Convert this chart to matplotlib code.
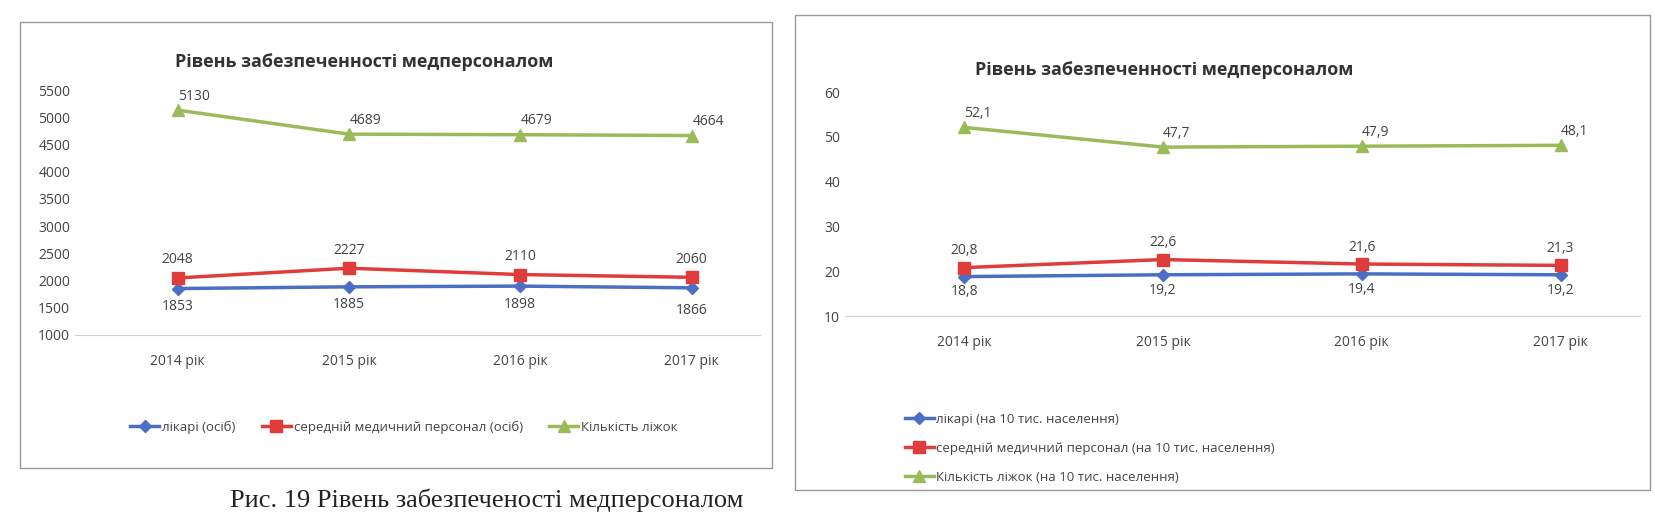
import matplotlib
matplotlib.use("Agg")
import matplotlib.pyplot as plt
from matplotlib.patches import Rectangle

years = ["2014 рік", "2015 рік", "2016 рік", "2017 рік"]
doctors = [1853, 1885, 1898, 1866]
nurses = [2048, 2227, 2110, 2060]
beds = [5130, 4689, 4679, 4664]
doctors10 = [18.8, 19.2, 19.4, 19.2]
nurses10 = [20.8, 22.6, 21.6, 21.3]
beds10 = [52.1, 47.7, 47.9, 48.1]
title = "Рівень забезпеченності медперсоналом"
leg1 = ["лікарі (осіб)", "середній медичний персонал (осіб)", "Кількість ліжок"]
leg2 = ["лікарі (на 10 тис. населення)", "середній медичний персонал (на 10 тис. населення)",
        "Кількість ліжок (на 10 тис. населення)"]
caption = "Рис. 19 Рівень забезпеченості медперсоналом"

plt.rcParams['font.family'] = ['Open Sans', 'DejaVu Sans']
W, H = 1655, 520
fig = plt.figure(figsize=(W/100, H/100), dpi=100)
fig.patch.set_facecolor('white')
BLUE, RED, GREEN = '#4a6fc4', '#e03c3c', '#9bbb59'
TXT = '#444444'

def box(x0, y0, x1, y1):
    fig.patches.append(Rectangle((x0/W, 1-y1/H), (x1-x0)/W, (y1-y0)/H, transform=fig.transFigure,
                                 fill=False, ec='#999999', lw=1.0))

def panel(rect, series, ylim, yticks, fmt, offs):
    x0, y0, x1, y1 = rect
    ax = fig.add_axes([x0/W, 1-y1/H, (x1-x0)/W, (y1-y0)/H])
    xs = range(len(years))
    styles = [(BLUE, 'D', 6), (RED, 's', 9), (GREEN, '^', 9)]
    lines = []
    for (vals, (c, m, ms), off) in zip(series, styles, offs):
        l, = ax.plot(xs, vals, color=c, marker=m, ms=ms, lw=2.5)
        lines.append(l)
        for i, v in enumerate(vals):
            ax.annotate(fmt(v), (i, v), xytext=(off[i][0], off[i][1]), textcoords='offset points',
                        ha='center', va='center', fontsize=10, color=TXT)
    ax.set_ylim(*ylim)
    ax.set_yticks(yticks)
    ax.set_xlim(-0.6, 3.4)
    ax.set_xticks(list(xs))
    ax.set_xticklabels(years, fontsize=10, color=TXT)
    ax.tick_params(axis='x', length=0, pad=14)
    ax.tick_params(axis='y', length=0, labelsize=10, labelcolor=TXT)
    for s in ['top', 'right', 'left']:
        ax.spines[s].set_visible(False)
    ax.spines['bottom'].set_color('#d0d0d0')
    ax.set_facecolor('none')
    return ax, lines

box(20, 22, 772, 468)
ax1, l1 = panel((75, 90, 760, 335), [doctors, nurses, beds], (1000, 5500),
                range(1000, 5501, 500), lambda v: f"{v}",
                [[(0, -13)]*3 + [(0, -16)], [(0, 13)]*4, [(12, 10)]*4])
fig.text(175/W, 1-62/H, title, fontsize=13, fontweight='bold', color='#333333', ha='left', va='center')
ax1.legend(l1, leg1, loc='upper center', bbox_to_anchor=(0.48, -0.3), ncol=3, frameon=False,
           fontsize=9.5, handlelength=2.2, columnspacing=2.0, handletextpad=0.2, labelcolor=TXT)

box(795, 15, 1650, 490)
ax2, l2 = panel((845, 92, 1640, 316), [doctors10, nurses10, beds10], (10, 60),
                range(10, 61, 10), lambda v: f"{v}".replace('.', ','),
                [[(0, -11)]*4, [(0, 12)]*4, [(10, 10)]*4])
fig.text(975/W, 1-70/H, title, fontsize=13, fontweight='bold', color='#333333', ha='left', va='center')
ax2.legend(l2, leg2, loc='upper left', bbox_to_anchor=(0.06, -0.38), ncol=1, frameon=False,
           fontsize=9.5, handlelength=2.2, handletextpad=0.2, labelspacing=1.2, labelcolor=TXT)

fig.text(230/W, 1-500/H, caption, fontsize=19, family=['Liberation Serif', 'DejaVu Serif'],
         color='#222222', ha='left', va='center')
fig.savefig("out.png", dpi=100)
